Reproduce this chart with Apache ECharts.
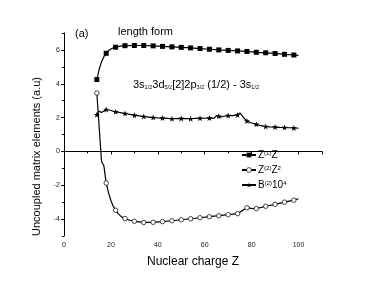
<!DOCTYPE html>
<html><head><meta charset="utf-8">
<script src="https://cdn.jsdelivr.net/npm/echarts@6/dist/echarts.min.js"></script>
<style>html,body{margin:0;padding:0;background:#fff}#c{width:374px;height:286px}</style>
</head><body><div id="c"></div>
<script>
var zSquare = [14,15,16,17,18,19,20,21,22,24,26,30,34,38,42,46,50,54,58,62,66,70,74,78,82,86,90,94,98,100];
var vSquare = [4.25,4.85,5.3,5.6,5.8,5.95,6.05,6.12,6.16,6.22,6.25,6.26,6.26,6.24,6.21,6.18,6.15,6.12,6.08,6.04,6.0,5.97,5.94,5.91,5.86,5.83,5.79,5.74,5.7,5.68];
var zCircle = [14,16,17,18,19,20,21,22,23,24,25,26,28,30,34,38,42,46,50,54,58,62,66,70,74,76,78,80,82,86,90,94,98,100];
var vCircle = [3.45,-0.6,-0.85,-1.87,-2.45,-2.9,-3.25,-3.48,-3.66,-3.8,-3.9,-3.97,-4.07,-4.13,-4.2,-4.19,-4.15,-4.1,-4.04,-3.98,-3.92,-3.86,-3.8,-3.74,-3.68,-3.5,-3.33,-3.37,-3.38,-3.24,-3.13,-3.0,-2.88,-2.8];
var zStar = [14,15,16,18,20,22,24,26,28,30,32,34,36,38,40,42,44,46,48,50,52,54,56,58,60,62,64,65,66,67,68,70,72,74,75,77,78,80,82,84,86,88,90,92,94,96,98,100];
var vStar = [2.17,2.38,2.3,2.48,2.42,2.34,2.29,2.24,2.19,2.14,2.1,2.06,2.03,2.0,1.98,1.97,1.95,1.93,1.94,1.95,1.94,1.93,1.95,1.96,1.96,1.98,1.95,2.12,2.08,2.04,2.08,2.12,2.12,2.16,2.28,1.93,1.8,1.68,1.6,1.52,1.47,1.45,1.44,1.42,1.41,1.4,1.39,1.37];
var xTicks = [0,20,40,60,80,100];
var yTicks = [-4,-2,0,2,4,6];
var seriesNames = ['Z(1)Z','Z(2)Z2','B(2)10^4'];
var legendLabels = {'Z(1)Z':'Z{s|(1)}Z','Z(2)Z2':'Z{s|(2)}Z{s|2}','B(2)10^4':'B{s|(2)}10{s|4}'};

var STAR = 'path://M12,0 L15,9 L24,9 L17,14.5 L19.5,24 L12,18 L4.5,24 L7,14.5 L0,9 L9,9 Z';
function build(zs, vs) {
  return zs.map(function (z, i) {
    var item = {value: [z, vs[i]]};
    if (!(z % 4 === 2 && z <= 98)) item.symbol = 'none';
    return item;
  });
}
var FONT = 'Liberation Sans, Arial, sans-serif';
var chart = echarts.init(document.getElementById('c'));
chart.setOption({
  animation: false,
  backgroundColor: '#fff',
  title: [
    {text: '(a)', left: 75, top: 28, padding: 0, textStyle: {fontSize: 11, fontWeight: 'normal', color: '#000', fontFamily: FONT}},
    {text: 'length form', left: 118, top: 26, padding: 0, textStyle: {fontSize: 11, fontWeight: 'normal', color: '#000', fontFamily: FONT}},
    {text: '3s{b|1/2}3d{b|5/2}[2]2p{b|3/2} (1/2) - 3s{b|1/2}', left: 133, top: 79, padding: 0,
     textStyle: {fontSize: 11, fontWeight: 'normal', color: '#000', fontFamily: FONT,
       rich: {b: {fontSize: 5.5, verticalAlign: 'bottom', fontFamily: FONT, color: '#000'}}}}
  ],
  legend: {
    orient: 'vertical', left: 241, top: 150, padding: 0, itemWidth: 14, itemHeight: 6, itemGap: 5,
    data: seriesNames,
    itemStyle: {borderWidth: 0.7},
    textStyle: {fontSize: 10, color: '#000', fontFamily: FONT, padding: [0, 0, 0, -3],
      rich: {s: {fontSize: 6, verticalAlign: 'top', fontFamily: FONT, color: '#000'}}},
    formatter: function (n) { return legendLabels[n]; }
  },
  grid: {left: 64, top: 33, width: 258, height: 203},
  xAxis: {
    type: 'value', min: 0, max: 110, interval: 20,
    name: 'Nuclear charge Z', nameLocation: 'middle', nameGap: 20,
    nameTextStyle: {fontSize: 12, color: '#000', fontFamily: FONT},
    axisLine: {lineStyle: {color: '#000', width: 1}},
    axisTick: {inside: false, length: 3, lineStyle: {color: '#000'}},
    minorTick: {show: true, splitNumber: 2, length: 2, lineStyle: {color: '#000'}},
    axisLabel: {fontSize: 7, color: '#222', margin: 6, fontFamily: FONT,
      formatter: function (v) { return xTicks.indexOf(v) >= 0 ? String(v) : ''; }},
    splitLine: {show: false}
  },
  yAxis: [{
    type: 'value', min: -5, max: 7, interval: 1,
    name: 'Uncoupled matrix elements (a.u)', nameLocation: 'middle', nameGap: 18, nameRotate: 90,
    nameTextStyle: {fontSize: 11, color: '#000', fontFamily: FONT, padding: [0, 44, 0, 0]},
    axisLine: {show: true, lineStyle: {color: '#000', width: 1}},
    axisTick: {inside: false, length: 3, customValues: yTicks, lineStyle: {color: '#000'}},
    axisLabel: {fontSize: 7, color: '#222', margin: 4, fontFamily: FONT, customValues: yTicks},
    splitLine: {show: false}
  }, {
    type: 'value', min: -5, max: 7, interval: 1, position: 'left', offset: 0,
    axisLine: {show: false},
    axisTick: {show: true, inside: false, length: 2, lineStyle: {color: '#000'}},
    axisLabel: {show: false},
    splitLine: {show: false}
  }],
  series: [
    {name: seriesNames[0], type: 'line', data: build(zSquare, vSquare), symbol: 'rect', symbolSize: 5,
     itemStyle: {color: '#000'}, lineStyle: {color: '#000', width: 1.2}},
    {name: seriesNames[1], type: 'line', data: build(zCircle, vCircle), symbol: 'circle', symbolSize: 4.5,
     itemStyle: {color: '#fff', borderColor: '#000', borderWidth: 0.7}, lineStyle: {color: '#000', width: 1.2}},
    {name: seriesNames[2], type: 'line', data: build(zStar, vStar), symbol: STAR, symbolSize: 6,
     itemStyle: {color: '#000'}, lineStyle: {color: '#000', width: 1.2}}
  ]
});
</script></body></html>
